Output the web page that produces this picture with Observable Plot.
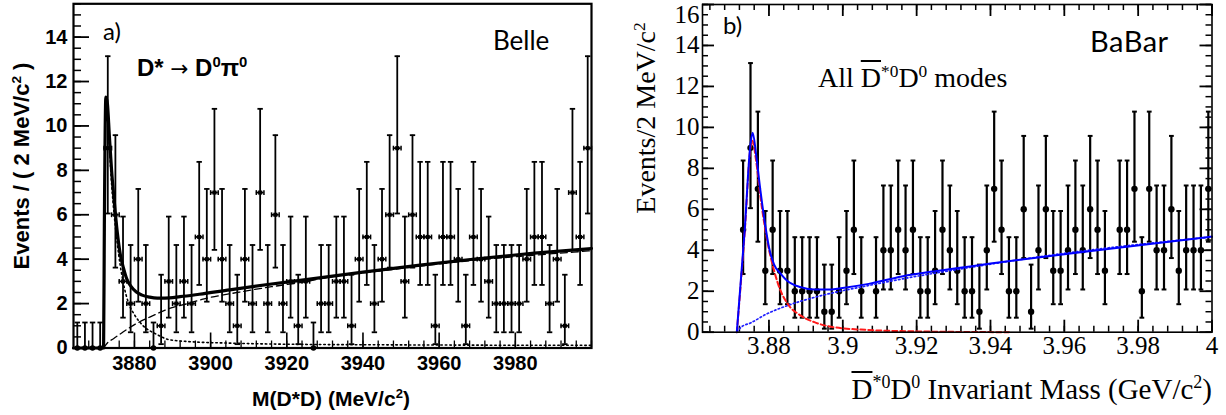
<!DOCTYPE html>
<html><head><meta charset="utf-8">
<script src="https://cdn.jsdelivr.net/npm/d3@7"></script>
<script src="https://cdn.jsdelivr.net/npm/@observablehq/plot@0.6"></script>
<style>
html,body{margin:0;padding:0;background:#fff;}
#wrap{position:relative;width:1226px;height:415px;overflow:hidden;background:#fff;}
#wrap svg{position:absolute;top:0;}
.t{position:absolute;white-space:nowrap;line-height:1;color:#000;}
.sans{font-family:"Liberation Sans",Arial,sans-serif;font-weight:bold;}
.serif{font-family:"Liberation Serif","Times New Roman",serif;font-weight:normal;}
.lato{font-family:Lato,"Open Sans",sans-serif;font-weight:normal;}
.rot{transform:translate(-50%,-50%) rotate(-90deg);transform-origin:50% 50%;}
.t sup{font-size:0.62em;vertical-align:0;position:relative;top:-0.6em;line-height:0;}
.ov{text-decoration:overline;text-decoration-thickness:1.5px;}
</style></head>
<body><div id="wrap"></div>
<script>
// ---------------- Belle (panel a) ----------------
const belleMass = [3865,3867,3869,3871,3873,3875,3877,3879,3881,3883,3885,3887,3889,3891,3893,3895,3897,3899,3901,3903,3905,3907,3909,3911,3913,3915,3917,3919,3921,3923,3925,3927,3929,3931,3933,3935,3937,3939,3941,3943,3945,3947,3949,3951,3953,3955,3957,3959,3961,3963,3965,3967,3969,3971,3973,3975,3977,3979,3981,3983,3985,3987,3989,3991,3993,3995,3997,3999];
const belleCounts = [0,0,0,0,9,6,3,2,4,2, 0,1,3,2,3,2,5,4,7,4, 2,1,4,2,7,2,6,2,3,1, 3,0,2,2,3,3,1,4,5,2, 4,6,9,3,6,5,5,1,5,5, 4,1,5,4,3,2,2,2,2,4, 5,5,2,4,1,7,5,9];
const belleBinWidth = 2;
const belleFitMass = [3864,3871.9,3872.1,3872.5,3872.9,3873.4,3874,3874.7,3875.5,3876.3,3877.2,3878,3879,3880.5,3882,3884,3886,3888,3892,3897,3905,3915,3925,3940,3955,3970,3985,4000];
const belleFitY    = [0,0,5.5,11.3,11.0,9.6,8.0,6.6,5.2,4.2,3.55,3.1,2.8,2.52,2.38,2.29,2.25,2.25,2.31,2.42,2.62,2.86,3.08,3.42,3.73,4.02,4.27,4.48];
const belleBkgMass = [3871.9,3873,3874.5,3877,3880.5,3885,3889,3894,3898,3907,3916,3924,3932,3945,3965,3985,4000];
const belleBkgY    = [0,0.25,0.42,0.72,1.1,1.47,1.77,2.0,2.2,2.5,2.76,2.96,3.22,3.48,3.88,4.18,4.38];
const belleSigMass = [3871.9,3872.1,3872.5,3873,3874,3875.5,3877,3878.5,3880,3882,3886,3889,3895,3905,3920,3950,4000];
const belleSigY    = [0,5.5,11.0,10.2,7.4,4.7,3.0,2.0,1.5,1.05,0.6,0.38,0.28,0.22,0.17,0.14,0.12];
const belleYTicks = [0,2,4,6,8,10,12,14];
const belleXTicks = [3880,3900,3920,3940,3960,3980];

// ---------------- BaBar (panel b) ----------------
const babarMass = [3.873,3.875,3.877,3.879,3.881,3.883,3.885,3.887,3.889,3.891,3.893,3.895,3.897,3.899,3.901,3.903,3.905,3.907,3.909,3.911,3.913,3.915,3.917,3.919,3.921,3.923,3.925,3.927,3.929,3.931,3.933,3.935,3.937,3.939,3.941,3.943,3.945,3.947,3.949,3.951,3.953,3.955,3.957,3.959,3.961,3.963,3.965,3.967,3.969,3.971,3.973,3.975,3.977,3.979,3.981,3.983,3.985,3.987,3.989,3.991,3.993,3.995,3.997,3.999];
const babarCounts = [5,9,7,3,5,3,3,2,2,2, 2,1,1,2,3,5,2,0,2,4, 4,5,4,5,2,2,3,5,4,3, 2,2,1,4,7,5,2,2,6,1, 4,6,3,3,4,5,4,6,5,3, 0,5,5,7,2,7,4,4,6,3, 4,4,4,7];
const babarFitMass = [3.8713,3.8734,3.8750,3.8756,3.8765,3.8777,3.8791,3.880,3.8814,3.8832,3.885,3.8886,3.8923,3.896,3.8995,3.907,3.916,3.925,3.9323,3.94,3.965,4.0];
const babarFitY    = [0,4.9,9.2,9.74,8.7,6.9,5.1,4.15,3.3,2.85,2.5,2.2,2.08,2.08,2.15,2.36,2.72,2.98,3.16,3.35,3.92,4.67];
const babarSigMass = [3.8713,3.8734,3.8750,3.8755,3.8765,3.8777,3.8795,3.8814,3.8832,3.885,3.8886,3.8923,3.8977,3.9068,3.92,3.945];
const babarSigY    = [0,4.8,9.0,9.35,8.4,6.6,4.5,3.0,2.0,1.4,0.81,0.49,0.24,0.11,0.04,0.0];
const babarBkgMass = [3.8713,3.8725,3.875,3.8795,3.885,3.8923,3.9,3.907,3.916,3.9323,3.96,4.0];
const babarBkgY    = [0,0.25,0.45,0.9,1.3,1.7,2.03,2.28,2.6,3.1,3.85,4.65];
const babarYTicks = [0,2,4,6,8,10,12,14,16];
const babarXTicks = [3.88,3.9,3.92,3.94,3.96,3.98,4];

// Poisson 68% intervals by observed count (as drawn)
const errLow  = [0,0.173,0.708,1.367,2.086,2.840,3.620,4.419,5.232,6.057];
const errHigh = [1.148,3.300,4.638,5.918,7.163,8.382,9.584,10.77,11.95,13.14];

const hCap = {draw(ctx, size){const r=Math.sqrt(size/Math.PI); ctx.moveTo(-r,0); ctx.lineTo(r,0);}};
const vCap = {draw(ctx, size){const r=Math.sqrt(size/Math.PI); ctx.moveTo(0,-r); ctx.lineTo(0,r);}};

const belleRows = belleMass.map((m,i)=>{const n=belleCounts[i]; return {m, n, lo:errLow[n], hi:errHigh[n], x1:m-belleBinWidth/2, x2:m+belleBinWidth/2};});
const babarRows = babarMass.map((m,i)=>{const n=babarCounts[i]; return {m, n, lo:errLow[n], hi:errHigh[n]};}).filter(d=>d.n>0);

const wrap = document.getElementById("wrap");

// Belle geometry
const bW = 600, bML = 73, bMR = 9, bMT = 3.3, bMB = 67.5;
const bFW = bW - bML - bMR, bFH = 415 - bMT - bMB;
const rng = (a,b,s)=>d3.range(a,b+s/2,s);
const belle = Plot.plot({
  width: bW, height: 415,
  marginLeft: bML, marginRight: bMR, marginTop: bMT, marginBottom: bMB,
  x: {domain: [3864, 4000]},
  y: {domain: [0, 15.5]},
  style: {fontFamily: "'Liberation Sans', Arial, sans-serif", fontWeight: "bold", fontSize: "20px", background: "transparent", color: "black"},
  marks: [
    Plot.tickY(rng(0,15.5,0.5), {insetRight: bFW-8, stroke: "black", strokeWidth: 1.5}),
    Plot.tickY(belleYTicks, {insetRight: bFW-16, stroke: "black", strokeWidth: 1.8}),
    Plot.tickX(rng(3868,4000,4), {insetTop: bFH-7, stroke: "black", strokeWidth: 1.3}),
    Plot.tickX(belleXTicks, {insetTop: bFH-15, stroke: "black", strokeWidth: 1.6}),
    Plot.ruleX(belleRows, {x: "m", y1: "lo", y2: "hi", stroke: "black", strokeWidth: 1.8}),
    Plot.dot(belleRows, {x: "m", y: "hi", symbol: hCap, r: 2.7, stroke: "black", strokeWidth: 1.8, fill: "none"}),
    Plot.dot(belleRows.filter(d=>d.lo>0), {x: "m", y: "lo", symbol: hCap, r: 2.7, stroke: "black", strokeWidth: 1.8, fill: "none"}),
    Plot.ruleY(belleRows.filter(d=>d.n>0), {y: "n", x1: "x1", x2: "x2", stroke: "black", strokeWidth: 1.8}),
    Plot.dot(belleRows.filter(d=>d.n>0), {x: "x1", y: "n", symbol: vCap, r: 2.4, stroke: "black", strokeWidth: 1.5, fill: "none"}),
    Plot.dot(belleRows.filter(d=>d.n>0), {x: "x2", y: "n", symbol: vCap, r: 2.4, stroke: "black", strokeWidth: 1.5, fill: "none"}),
    Plot.dot(belleRows.filter(d=>d.n>0), {x: "m", y: "n", symbol: "square", r: 2.3, fill: "black"}),
    Plot.dot(belleRows.filter(d=>d.n===0), {x: "m", y: "n", r: 2.8, fill: "black"}),
    Plot.line(d3.zip(belleBkgMass, belleBkgY), {curve: "monotone-x", stroke: "black", strokeWidth: 1.3, strokeDasharray: "7,4"}),
    Plot.line(d3.zip(belleSigMass, belleSigY), {curve: "monotone-x", stroke: "black", strokeWidth: 1.6, strokeDasharray: "1.5,3"}),
    Plot.line(d3.zip(belleFitMass, belleFitY), {curve: "monotone-x", stroke: "black", strokeWidth: 3.2}),
    Plot.frame({stroke: "black", strokeWidth: 2.2}),
    Plot.axisY(belleYTicks, {tickSize: 0, tickPadding: 6, label: null, tickFormat: d => String(d)}),
    Plot.axisX(belleXTicks, {tickSize: 0, tickPadding: 8, label: null, tickFormat: d => String(d)})
  ]
});
belle.style.left = "0px";
wrap.appendChild(belle);

// BaBar geometry
const aW = 626, aML = 102, aMR = 14.5, aMT = 4, aMB = 83.3;
const aFW = aW - aML - aMR, aFH = 415 - aMT - aMB;
const babar = Plot.plot({
  width: aW, height: 415,
  marginLeft: aML, marginRight: aMR, marginTop: aMT, marginBottom: aMB,
  x: {domain: [3.862, 4.0]},
  y: {domain: [0, 16]},
  style: {fontFamily: "'Liberation Serif', 'Times New Roman', serif", fontSize: "25px", background: "transparent", color: "black"},
  marks: [
    Plot.tickY(rng(0,16,0.5), {insetRight: aFW-6, stroke: "black", strokeWidth: 1.5}),
    Plot.tickY(rng(0,16,0.5), {insetLeft: aFW-6, stroke: "black", strokeWidth: 1.5}),
    Plot.tickY(babarYTicks, {insetRight: aFW-12, stroke: "black", strokeWidth: 1.8}),
    Plot.tickY(babarYTicks, {insetLeft: aFW-12, stroke: "black", strokeWidth: 1.8}),
    Plot.tickX(rng(3.864,4.0,0.004), {insetTop: aFH-6, stroke: "black", strokeWidth: 1.5}),
    Plot.tickX(rng(3.864,4.0,0.004), {insetBottom: aFH-6, stroke: "black", strokeWidth: 1.5}),
    Plot.tickX(babarXTicks, {insetTop: aFH-12, stroke: "black", strokeWidth: 1.8}),
    Plot.tickX(babarXTicks, {insetBottom: aFH-12, stroke: "black", strokeWidth: 1.8}),
    Plot.ruleX(babarRows, {x: "m", y1: "lo", y2: "hi", stroke: "black", strokeWidth: 2.2}),
    Plot.dot(babarRows, {x: "m", y: "hi", symbol: hCap, r: 2.4, stroke: "black", strokeWidth: 2, fill: "none"}),
    Plot.dot(babarRows, {x: "m", y: "lo", symbol: hCap, r: 2.4, stroke: "black", strokeWidth: 2, fill: "none"}),
    Plot.dot(babarRows, {x: "m", y: "n", r: 3.2, fill: "black"}),
    Plot.line(d3.zip(babarBkgMass, babarBkgY), {curve: "monotone-x", stroke: "#1f1fff", strokeWidth: 1.7, strokeDasharray: "1.5,2.5"}),
    Plot.line(d3.zip(babarSigMass, babarSigY), {curve: "monotone-x", stroke: "#ff1a1a", strokeWidth: 2, strokeDasharray: "5,3"}),
    Plot.line(d3.zip(babarFitMass, babarFitY), {curve: "monotone-x", stroke: "#0000ff", strokeWidth: 2}),
    Plot.frame({stroke: "black", strokeWidth: 1.6}),
    Plot.axisY(babarYTicks.filter(d => d < 16), {tickSize: 0, tickPadding: 3, label: null, tickFormat: d => String(d)}),
    Plot.axisY(babarYTicks.filter(d => d >= 16), {tickSize: 0, tickPadding: 3, label: null, dy: 10, tickFormat: d => String(d)}),
    Plot.axisX(babarXTicks, {tickSize: 0, tickPadding: 4, label: null, tickFormat: d => String(+d.toFixed(3))})
  ]
});
babar.style.left = "600px";
wrap.appendChild(babar);

// ---------------- text ----------------
function addText(html, css, cls){
  const d = document.createElement("div");
  d.className = "t " + cls;
  d.innerHTML = html;
  Object.assign(d.style, css);
  wrap.appendChild(d);
}
// Belle
addText("a)", {left:"103px", top:"19px", fontSize:"24px"}, "lato");
addText('D* <span style="font-weight:normal;font-family:\'DejaVu Sans\';font-size:0.9em">&#8594;</span> D<sup>0</sup>&#960;<sup>0</sup>', {left:"137px", top:"56px", fontSize:"24px"}, "sans");
addText("Belle", {left:"493px", top:"27px", fontSize:"26px"}, "lato");
addText("Events / ( 2 MeV/c<sup>2</sup> )", {left:"22px", top:"166px", fontSize:"22px"}, "sans rot");
addText("M(D*D) (MeV/c<sup>2</sup>)", {left:"331px", top:"388px", fontSize:"21px", transform:"translateX(-50%)"}, "sans");
// BaBar
addText("b)", {left:"723px", top:"13px", fontSize:"24px"}, "lato");
addText('All <span class="ov">D</span><sup>*0</sup>D<sup>0</sup> modes', {left:"818px", top:"64px", fontSize:"28px"}, "serif");
addText("BaBar", {left:"1090px", top:"26px", fontSize:"29px", letterSpacing:"0.5px"}, "lato");
addText("Events/2 MeV/c<sup>2</sup>", {left:"646px", top:"118px", fontSize:"28px"}, "serif rot");
addText('<span class="ov">D</span><sup>*0</sup>D<sup>0</sup> Invariant Mass (GeV/c<sup>2</sup>)', {right:"14px", top:"375px", fontSize:"29px"}, "serif");
</script></body></html>
